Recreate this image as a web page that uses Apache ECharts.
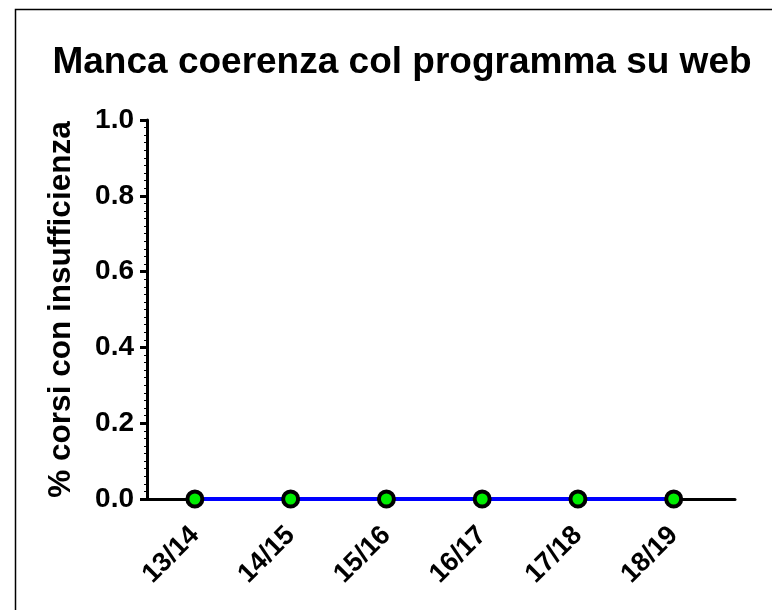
<!DOCTYPE html>
<html>
<head>
<meta charset="utf-8">
<script src="https://cdn.jsdelivr.net/npm/echarts@6/dist/echarts.min.js"></script>
<style>
html,body{margin:0;padding:0;background:#fff;}
#main{width:772px;height:610px;}
</style>
</head>
<body>
<div id="main"></div>
<script>
// anni accademici e percentuale di corsi con insufficienza
var anni = ['13/14', '14/15', '15/16', '16/17', '17/18', '18/19'];
var valori = [0, 0, 0, 0, 0, 0];

var chart = echarts.init(document.getElementById('main'));
var punti = anni.map(function (a, i) { return [i, valori[i]]; });
var font = 'Liberation Sans, Arial, sans-serif';

option = {
    animation: false,
    title: {
        text: 'Manca coerenza col programma su web',
        left: 397,
        textAlign: 'center',
        top: 39,
        textStyle: {fontFamily: font, fontWeight: 'bold', fontSize: 37, color: '#000'}
    },
    graphic: [{
        type: 'rect',
        shape: {x: 15.5, y: 9.5, width: 800, height: 700},
        style: {fill: 'none', stroke: '#000', lineWidth: 1.5},
        silent: true
    }],
    grid: {left: 147, right: 37, top: 120, bottom: 111},
    xAxis: {
        type: 'value',
        min: -0.5,
        max: 5.64,
        axisLine: {show: true, onZero: false, lineStyle: {color: '#000', width: 3}},
        splitLine: {show: false},
        axisTick: {show: true, customValues: [0, 1, 2, 3, 4, 5], length: 6, lineStyle: {color: '#000', width: 3}},
        axisLabel: {
            customValues: [0, 1, 2, 3, 4, 5],
            formatter: function (v) { return anni[Math.round(v)]; },
            rotate: 45,
            margin: 32,
            fontFamily: font, fontWeight: 'bold', fontSize: 27, color: '#000'
        }
    },
    yAxis: {
        type: 'value',
        min: 0,
        max: 1,
        interval: 0.2,
        name: '% corsi con insufficienza',
        nameLocation: 'middle',
        nameGap: 70,
        nameTextStyle: {fontFamily: font, fontWeight: 'bold', fontSize: 31.5, color: '#000'},
        axisLine: {show: true, onZero: false, lineStyle: {color: '#000', width: 3}},
        splitLine: {show: false},
        axisTick: {show: true, length: 7, lineStyle: {color: '#000', width: 3}},
        minorTick: {show: true, splitNumber: 10, length: 3, lineStyle: {color: '#000', width: 1}},
        axisLabel: {
            formatter: function (v) { return v.toFixed(1); },
            margin: 13,
            fontFamily: font, fontWeight: 'bold', fontSize: 28, color: '#000'
        }
    },
    series: [{
        type: 'line',
        data: punti,
        symbol: 'circle',
        symbolSize: 15,
        z: 5,
        lineStyle: {color: '#0000ff', width: 4},
        itemStyle: {color: '#00ee00', borderColor: '#000', borderWidth: 4}
    }]
};
chart.setOption(option);
</script>
</body>
</html>
